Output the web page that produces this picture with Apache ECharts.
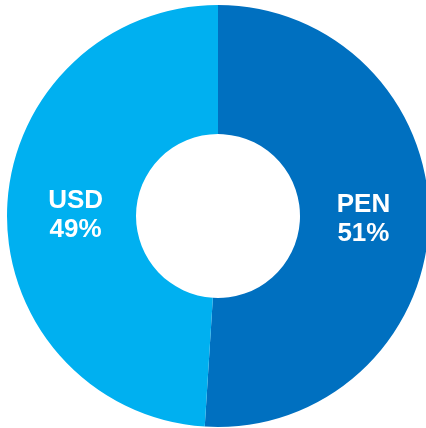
<!DOCTYPE html>
<html>
<head>
<meta charset="utf-8">
<style>
  html, body { margin: 0; padding: 0; background: #ffffff; }
  #chart { width: 426px; height: 428px; }
</style>
<script src="https://cdn.jsdelivr.net/npm/echarts@6/dist/echarts.min.js"></script>
</head>
<body>
<div id="chart"></div>
<script>
// Currency split of the portfolio
const currencies = ['PEN', 'USD'];
const shares = [51, 49];
const sliceColors = ['#0070C0', '#00B0F0'];
// nudges for the inside labels, in pixels
const labelOffsets = [[-4, -1], [7, 4]];

const chart = echarts.init(document.getElementById('chart'), null, { renderer: 'canvas' });

chart.setOption({
  animation: false,
  backgroundColor: '#ffffff',
  series: [{
    type: 'pie',
    center: [218, 216],
    radius: [82, 211],
    startAngle: 90,
    clockwise: true,
    avoidLabelOverlap: false,
    silent: true,
    itemStyle: { borderWidth: 0 },
    label: {
      show: true,
      position: 'inside',
      formatter: p => p.name + '\n' + p.value + '%',
      color: '#ffffff',
      fontFamily: 'Liberation Sans, Arial, sans-serif',
      fontWeight: 'bold',
      fontSize: 26,
      lineHeight: 29,
      align: 'center'
    },
    labelLine: { show: false },
    data: currencies.map((name, i) => ({
      name,
      value: shares[i],
      itemStyle: { color: sliceColors[i] },
      label: { offset: labelOffsets[i] }
    }))
  }]
});
</script>
</body>
</html>
